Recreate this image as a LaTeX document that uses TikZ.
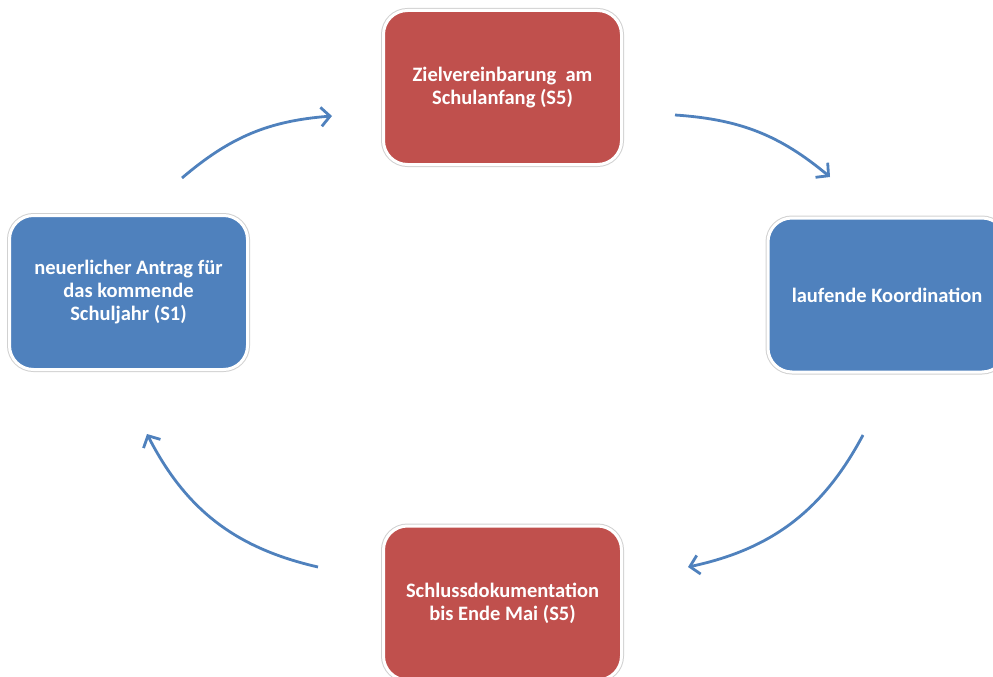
\documentclass[tikz,border=0pt]{standalone}
\usepackage{fontspec}
\setmainfont{Carlito}
\usetikzlibrary{arrows.meta}
\definecolor{boxred}{HTML}{C0504D}
\definecolor{boxblue}{HTML}{4F81BD}
\definecolor{arrblue}{HTML}{4F81BD}
\tikzset{
  stepbox/.style={rounded corners=24pt, minimum width=238pt, minimum height=154pt,
    draw=white, line width=3pt, preaction={draw=black!18, line width=5pt},
    text=white, align=center, font=\bfseries\fontsize{20.5}{23}\selectfont, inner sep=0pt},
  redbox/.style={stepbox, fill=boxred},
  bluebox/.style={stepbox, fill=boxblue},
  cyc/.style={draw=arrblue, line width=2.8pt, -{Straight Barb[length=9pt,width=19pt,line width=2.8pt]}}
}
\begin{document}
\begin{tikzpicture}[x=1pt,y=-1pt]
\useasboundingbox (0,0) rectangle (993,677);
\node[redbox] (top) at (502.5,87.5) {Zielvereinbarung~ am\\Schulanfang (S5)};
\node[bluebox] (right) at (887,295) {laufende Koordination};
\node[redbox] (bottom) at (502.5,603) {Schlussdokumentation\\bis Ende Mai (S5)};
\node[bluebox] (left) at (128.5,292.5) {neuerlicher Antrag für\\das kommende\\Schuljahr (S1)};
\coordinate (a1s) at (182,178);
\coordinate (a1e) at (332,116);
\coordinate (a2s) at (675,115);
\coordinate (a2e) at (830,177);
\coordinate (a3s) at (863,435);
\coordinate (a3e) at (688,567);
\coordinate (a4s) at (318,567);
\coordinate (a4e) at (147,434);
\draw[cyc] (a1s) to[bend left=18] (a1e);
\draw[cyc] (a2s) to[bend left=18] (a2e);
\draw[cyc] (a3s) to[bend left=25] (a3e);
\draw[cyc] (a4s) to[bend left=25] (a4e);
\end{tikzpicture}
\end{document}
